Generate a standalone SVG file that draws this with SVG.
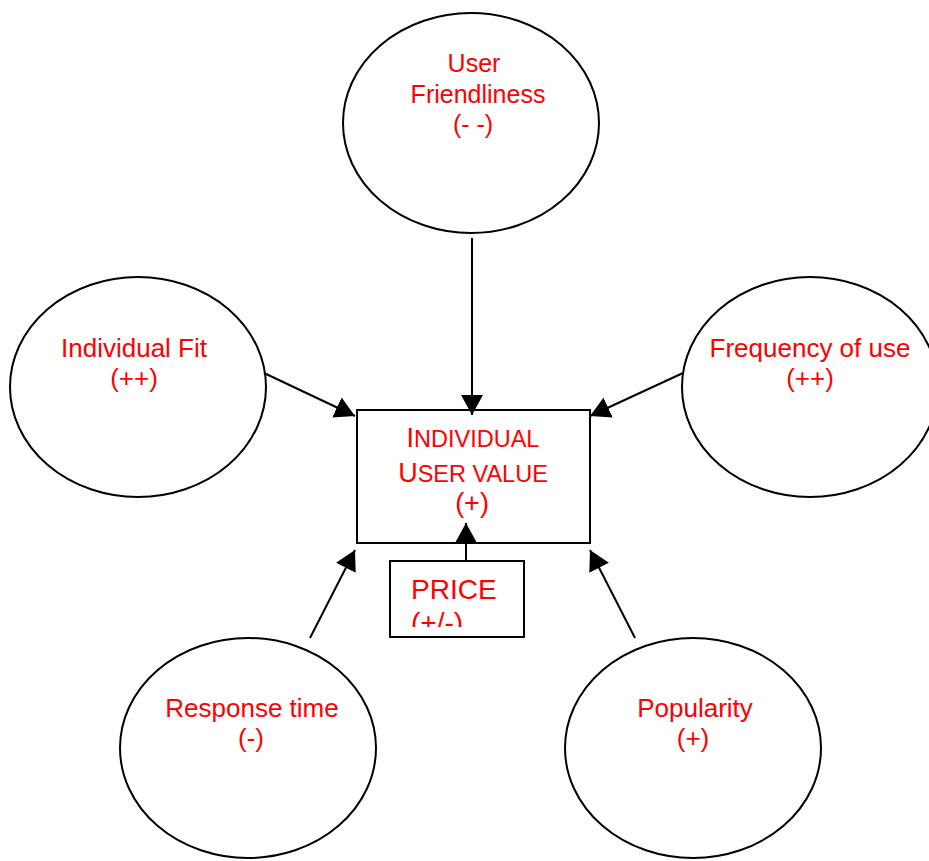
<svg xmlns="http://www.w3.org/2000/svg" width="929" height="861" viewBox="0 0 929 861">
  <style>
    .node { fill: #ffffff; stroke: #000000; stroke-width: 2; }
    .lbl { font-family: "Liberation Sans", Arial, sans-serif; fill: #ff0000; font-size: 26px; text-anchor: middle; }
    .conn { stroke: #000000; stroke-width: 2; fill: none; marker-end: url(#arrow); }
  </style>
  <defs>
    <marker id="arrow" markerUnits="userSpaceOnUse" markerWidth="20" markerHeight="22" viewBox="0 0 20 22" refX="20" refY="11" orient="auto">
      <path d="M0,0 L20,11 L0,22 Z" fill="#000000"/>
    </marker>
    <clipPath id="priceClip">
      <rect x="391" y="562" width="132" height="65"/>
    </clipPath>
  </defs>
  <rect width="929" height="861" fill="#ffffff"/>

  <g id="user-friendliness">
    <ellipse class="node" cx="471" cy="123" rx="128" ry="110"/>
    <text class="lbl" style="font-size:25px" x="474" y="72">User</text>
    <text class="lbl" style="font-size:25px" x="478" y="103">Friendliness</text>
    <text class="lbl" style="font-size:25px" x="473" y="133">(- -)</text>
  </g>

  <g id="individual-fit">
    <ellipse class="node" cx="138" cy="387" rx="128" ry="110"/>
    <text class="lbl" x="134" y="357">Individual Fit</text>
    <text class="lbl" x="134" y="387">(++)</text>
  </g>

  <g id="frequency-of-use">
    <ellipse class="node" cx="810" cy="387" rx="128" ry="110"/>
    <text class="lbl" x="810" y="357">Frequency of use</text>
    <text class="lbl" x="810" y="387">(++)</text>
  </g>

  <g id="response-time">
    <ellipse class="node" cx="248" cy="748" rx="128" ry="110"/>
    <text class="lbl" x="252" y="717">Response time</text>
    <text class="lbl" x="251" y="747">(-)</text>
  </g>

  <g id="popularity">
    <ellipse class="node" cx="693" cy="748" rx="128" ry="110"/>
    <text class="lbl" x="695" y="717">Popularity</text>
    <text class="lbl" x="693" y="747">(+)</text>
  </g>

  <g id="individual-user-value">
    <rect class="node" x="357" y="410" width="233" height="133"/>
    <text class="lbl" x="473" y="447"><tspan style="font-size:27px">I</tspan><tspan style="font-size:23.5px">NDIVIDUAL</tspan></text>
    <text class="lbl" x="473" y="482"><tspan style="font-size:27px">U</tspan><tspan style="font-size:23.5px">SER VALUE</tspan></text>
    <text class="lbl" style="font-size:27px" x="472" y="512">(+)</text>
  </g>

  <g id="price">
    <rect class="node" x="390" y="561" width="134" height="76"/>
    <g clip-path="url(#priceClip)">
      <text class="lbl" style="font-size:28px; text-anchor:start" x="411" y="599">PRICE</text>
      <text class="lbl" style="font-size:28px; text-anchor:start" x="411" y="632">(+/-)</text>
    </g>
  </g>

  <g id="connectors">
    <line class="conn" x1="472" y1="238" x2="472" y2="415"/>
    <line class="conn" x1="264" y1="373" x2="355" y2="416"/>
    <line class="conn" x1="683" y1="373" x2="590" y2="416"/>
    <line class="conn" x1="310" y1="638" x2="355" y2="550"/>
    <line class="conn" x1="635" y1="638" x2="590" y2="550"/>
    <line class="conn" x1="466" y1="561" x2="466" y2="523"/>
  </g>
</svg>
